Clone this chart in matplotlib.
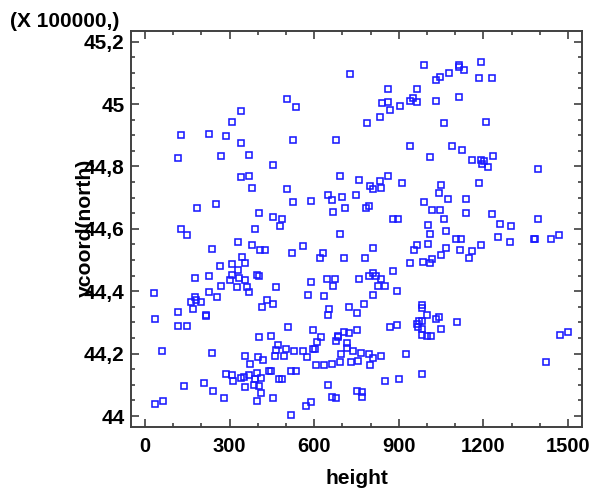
import matplotlib
matplotlib.use("Agg")
import matplotlib.pyplot as plt
from matplotlib.ticker import MultipleLocator, FuncFormatter

# Data (ycoord in units of 100000)
height = [
    728, 503, 536, 340, 307, 129, 227, 288, 340, 526, 676, 115, 269, 368, 453, 340, 368, 691, 760, 378,
    503, 649, 662, 699, 747, 184, 251, 526, 587, 667, 710, 405, 453, 484, 479, 129, 391,
    991, 1112, 1112, 1192, 1078, 1130, 1046, 1032, 1183, 1230, 860, 963, 841, 860, 869, 906, 939, 949, 963, 1032,
    1112, 832, 789, 1061, 1209, 939, 1089, 1126, 1009, 1159, 1192, 1201, 1197, 1216, 1234, 1393, 860, 832, 799, 808,
    837, 911, 1051, 1042, 1183, 1075, 1140, 991, 784, 795, 1018, 1046, 1140, 1230, 879, 897, 1061, 1393, 1004, 1258,
    1299, 1066,
    148, 690, 330, 378, 559, 236, 409, 425, 522, 630, 620, 705, 345, 354, 265, 307, 330, 396, 405, 307,
    227, 176, 334, 354, 302, 644, 672, 760, 587, 667, 269, 363, 325, 465, 368, 227, 31, 578, 634, 255,
    176, 198, 162, 181, 433, 453, 415, 724, 171, 115, 653, 649, 751, 217, 217, 35, 115, 148, 508, 596,
    705, 724, 751, 405, 448, 625, 686, 686, 611, 677, 715, 715, 470, 465, 499, 527, 559, 596, 601, 737,
    765, 696, 59, 236, 354, 400, 419, 461, 494, 573, 373, 606, 634, 664, 691, 729, 757, 288, 307, 312,
    340, 350, 368, 396, 410, 391, 438, 448, 475, 484, 517, 536, 386, 405, 354, 138, 208, 649, 241, 410,
    279, 453, 662, 677, 752, 770, 770, 35, 64, 396, 570, 587, 517,
    1009, 1103, 1122, 1252, 1295, 1379, 1383, 1440, 1468, 808, 963, 953, 1004, 1066, 1117, 1159, 1192, 1051, 1149, 780,
    939, 986, 1009, 1018, 878, 794, 808, 818, 837, 827, 851, 892, 808, 776, 981, 981, 999, 1032, 1042, 1108,
    981, 971, 963, 967, 981, 981, 999, 1014, 1051, 892, 869, 1472, 1500, 794, 808, 798, 837, 925, 1421, 981,
    851, 901,
]
ycoord = [
    45.095, 45.015, 44.989, 44.977, 44.943, 44.901, 44.905, 44.896, 44.875, 44.884, 44.884, 44.828, 44.833, 44.837,
    44.803, 44.765, 44.769, 44.769, 44.756, 44.731, 44.727, 44.710, 44.693, 44.702, 44.710, 44.667, 44.680, 44.685,
    44.689, 44.654, 44.667, 44.650, 44.638, 44.630, 44.609, 44.598, 44.601,
    45.124, 45.126, 45.120, 45.134, 45.099, 45.108, 45.087, 45.078, 45.082, 45.082, 45.048, 45.048, 45.002, 45.006,
    44.981, 44.994, 45.011, 45.019, 45.006, 45.011, 45.023, 44.959, 44.938, 44.938, 44.942, 44.866, 44.866, 44.853,
    44.829, 44.820, 44.820, 44.816, 44.808, 44.799, 44.833, 44.791, 44.769, 44.752, 44.736, 44.727, 44.732, 44.748,
    44.739, 44.714, 44.748, 44.697, 44.697, 44.685, 44.667, 44.673, 44.659, 44.659, 44.650, 44.646, 44.633, 44.633,
    44.630, 44.630, 44.613, 44.617, 44.609, 44.592,
    44.579, 44.583, 44.557, 44.549, 44.545, 44.536, 44.532, 44.532, 44.524, 44.524, 44.507, 44.507, 44.511, 44.490,
    44.481, 44.486, 44.468, 44.452, 44.448, 44.452, 44.448, 44.444, 44.444, 44.435, 44.435, 44.440, 44.440, 44.440,
    44.431, 44.418, 44.418, 44.414, 44.414, 44.414, 44.397, 44.397, 44.393, 44.388, 44.384, 44.380, 44.380, 44.367,
    44.364, 44.371, 44.371, 44.359, 44.351, 44.351, 44.342, 44.334, 44.342, 44.325, 44.329, 44.325, 44.321, 44.312,
    44.288, 44.288, 44.284, 44.275, 44.271, 44.266, 44.275, 44.253, 44.258, 44.253, 44.258, 44.252, 44.236, 44.241,
    44.234, 44.219, 44.228, 44.211, 44.215, 44.207, 44.207, 44.215, 44.215, 44.207, 44.202, 44.198, 44.207, 44.202,
    44.194, 44.189, 44.181, 44.194, 44.194, 44.189, 44.168, 44.164, 44.164, 44.168, 44.173, 44.173, 44.177, 44.135,
    44.131, 44.114, 44.122, 44.126, 44.131, 44.139, 44.122, 44.118, 44.143, 44.143, 44.118, 44.118, 44.143, 44.143,
    44.101, 44.096, 44.092, 44.096, 44.105, 44.101, 44.079, 44.075, 44.058, 44.058, 44.062, 44.058, 44.080, 44.077,
    44.061, 44.038, 44.049, 44.049, 44.033, 44.045, 44.003,
    44.583, 44.566, 44.566, 44.574, 44.557, 44.566, 44.566, 44.566, 44.579, 44.540, 44.549, 44.532, 44.553, 44.540,
    44.532, 44.528, 44.549, 44.516, 44.507, 44.507, 44.490, 44.494, 44.490, 44.503, 44.464, 44.448, 44.457, 44.448,
    44.440, 44.418, 44.418, 44.401, 44.388, 44.359, 44.355, 44.346, 44.325, 44.312, 44.317, 44.300, 44.304, 44.304,
    44.295, 44.287, 44.278, 44.261, 44.257, 44.257, 44.278, 44.291, 44.287, 44.261, 44.269, 44.198, 44.185, 44.164,
    44.194, 44.198, 44.172, 44.135, 44.114, 44.118,
]
x_label = "height"
y_label = "ycoord(north)"
multiplier_text = "(X 100000,)"

FONT = "Liberation Sans"

fig = plt.figure(figsize=(5.97, 4.93), dpi=100)
ax = fig.add_axes([131 / 597, 1 - 427 / 493, 451 / 597, 396 / 493])

ax.plot(height, ycoord, linestyle="none", marker="s", markersize=4.8,
        markerfacecolor="none", markeredgecolor="#1a1aff", markeredgewidth=1.15)

ax.set_xlim(-50, 1550)
ax.set_ylim(43.965, 45.234)
ax.xaxis.set_major_locator(MultipleLocator(300))
ax.xaxis.set_minor_locator(MultipleLocator(100))
ax.yaxis.set_major_locator(MultipleLocator(0.2))
ax.yaxis.set_minor_locator(MultipleLocator(0.05))


def comma_fmt(v, pos):
    s = ("%.1f" % v).rstrip("0").rstrip(".")
    return s.replace(".", ",")


ax.yaxis.set_major_formatter(FuncFormatter(comma_fmt))

for s in ax.spines.values():
    s.set_color("#404040")
    s.set_linewidth(1.4)

ax.tick_params(which="both", direction="in", top=True, right=True, color="#404040", width=1.2)
ax.tick_params(which="major", length=5.5)
ax.tick_params(which="minor", length=3.2)
ax.tick_params(axis="x", which="major", pad=7, labelsize=14.5)
ax.tick_params(axis="y", which="major", pad=4.5, labelsize=15)
for lab in ax.get_xticklabels() + ax.get_yticklabels():
    lab.set_fontfamily(FONT)
    lab.set_fontweight("bold")

ax.set_xlabel(x_label, fontsize=15, fontweight="bold", family=FONT, labelpad=9.5)
fig.text(85 / 597, 1 - 227.5 / 493, y_label, rotation=90, ha="center", va="center",
         fontsize=15.2, fontweight="bold", family=FONT)
fig.text(10 / 597, 1 - 27 / 493, multiplier_text, ha="left", va="baseline",
         fontsize=15, fontweight="bold", family=FONT)

fig.savefig("out.png", dpi=100)
